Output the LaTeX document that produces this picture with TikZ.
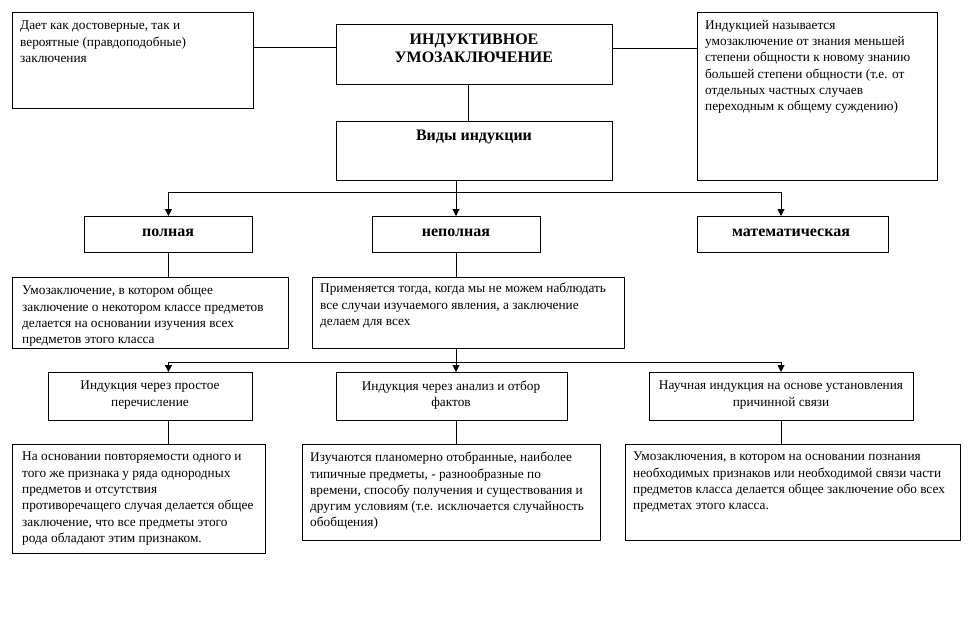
\documentclass[tikz,border=0pt]{standalone}
\usepackage{fontspec}
\setmainfont{Liberation Serif}
\usetikzlibrary{arrows.meta}
\begin{document}
\begin{tikzpicture}[x=1pt,y=-1pt,
  box/.style={draw, line width=0.9pt, inner sep=0pt, anchor=north west},
  txt/.style={anchor=north west, inner sep=0pt, align=left, font=\fontsize{13.3}{16.3}\selectfont},
  ctr/.style={inner sep=0pt, align=center, font=\fontsize{13.3}{16.3}\selectfont},
  ttl/.style={inner sep=0pt, align=center, font=\bfseries\fontsize{16}{18}\selectfont},
  lbl/.style={inner sep=0pt, align=center, font=\bfseries\fontsize{16}{18}\selectfont},
  con/.style={line width=0.9pt},
  arr/.style={line width=0.9pt, -{Triangle[length=7pt,width=7pt]}}]
\useasboundingbox (0,0) rectangle (973,625);
% boxes
\node[box, minimum width=241pt, minimum height=96pt] (b1) at (12,12) {};
\node[box, minimum width=276pt, minimum height=60pt] (main) at (336,24) {};
\node[box, minimum width=240pt, minimum height=168pt] (b3) at (697,12) {};
\node[box, minimum width=276pt, minimum height=59pt] (vidy) at (336,121) {};
\node[box, minimum width=168pt, minimum height=36pt] (poln) at (84,216) {};
\node[box, minimum width=168pt, minimum height=36pt] (nepoln) at (372,216) {};
\node[box, minimum width=191pt, minimum height=36pt] (mat) at (697,216) {};
\node[box, minimum width=276pt, minimum height=71pt] (polt) at (12,277) {};
\node[box, minimum width=312pt, minimum height=71pt] (nept) at (312,277) {};
\node[box, minimum width=204pt, minimum height=48pt] (m1) at (48,372) {};
\node[box, minimum width=231pt, minimum height=48pt] (m2) at (336,372) {};
\node[box, minimum width=264pt, minimum height=48pt] (m3) at (649,372) {};
\node[box, minimum width=253pt, minimum height=109pt] (bA) at (12,444) {};
\node[box, minimum width=298pt, minimum height=96pt] (bB) at (302,444) {};
\node[box, minimum width=335pt, minimum height=96pt] (bC) at (625,444) {};
% texts
\node[txt] (t1) at (20,21) {Дает как достоверные, так и\\вероятные (правдоподобные)\\заключения};
\node[ttl] (tmain) at (474,48) {ИНДУКТИВНОЕ\\УМОЗАКЛЮЧЕНИЕ};
\node[txt] (t3) at (705,20) {Индукцией называется\\умозаключение от знания меньшей\\степени общности к новому знанию\\большей степени общности (т.е. от\\отдельных частных случаев\\переходным к общему суждению)};
\node[ttl] (tvidy) at (474,137) {Виды индукции};
\node[lbl] (tpoln) at (168,233) {полная};
\node[lbl] (tnep) at (456,233) {неполная};
\node[lbl] (tmat) at (791,233) {математическая};
\node[txt] (tpolt) at (22,285) {Умозаключение, в котором общее\\заключение о некотором классе предметов\\делается на основании изучения всех\\предметов этого класса};
\node[txt] (tnept) at (320,283) {Применяется тогда, когда мы не можем наблюдать\\все случаи изучаемого явления, а заключение\\делаем для всех};
\node[ctr] (tm1) at (150,395) {Индукция через простое\\перечисление};
\node[ctr] (tm2) at (451,395) {Индукция через анализ и отбор\\фактов};
\node[ctr] (tm3) at (781,395) {Научная индукция на основе установления\\причинной связи};
\node[txt] (tA) at (22,452) {На основании повторяемости одного и\\того же признака у ряда однородных\\предметов и отсутствия\\противоречащего случая делается общее\\заключение, что все предметы этого\\рода обладают этим признаком.};
\node[txt] (tB) at (310,452) {Изучаются планомерно отобранные, наиболее\\типичные предметы, - разнообразные по\\времени, способу получения и существования и\\другим условиям (т.е. исключается случайность\\обобщения)};
\node[txt] (tC) at (633,452) {Умозаключения, в котором на основании познания\\необходимых признаков или необходимой связи части\\предметов класса делается общее заключение обо всех\\предметах этого класса.};
% helper coordinates
\coordinate (yl) at (0,47);
\coordinate (yr) at (0,48);
\coordinate (xa) at (468,0);
\coordinate (j1) at (456,192);
\coordinate (j2) at (456,362);
\coordinate (xr) at (781,0);
% connectors
\draw[con] (b1.east |- yl) -- (main.west |- yl);
\draw[con] (main.east |- yr) -- (b3.west |- yr);
\draw[con] (main.south -| xa) -- (vidy.north -| xa);
\draw[con] (vidy.south -| j1) -- (j1);
\draw[arr] (j1) -| (poln.north);
\draw[arr] (j1) -- (nepoln.north -| j1);
\draw[arr] (j1) -| (mat.north -| xr);
\draw[con] (poln.south) -- (polt.north -| poln.south);
\draw[con] (nepoln.south) -- (nept.north -| nepoln.south);
\draw[con] (nept.south -| j2) -- (j2);
\draw[arr] (j2) -| (m1.north -| poln.south);
\draw[arr] (j2) -- (m2.north -| j2);
\draw[arr] (j2) -| (m3.north -| xr);
\draw[con] (m1.south -| poln.south) -- (bA.north -| poln.south);
\draw[con] (m2.south -| j2) -- (bB.north -| j2);
\draw[con] (m3.south -| xr) -- (bC.north -| xr);
\end{tikzpicture}
\end{document}
